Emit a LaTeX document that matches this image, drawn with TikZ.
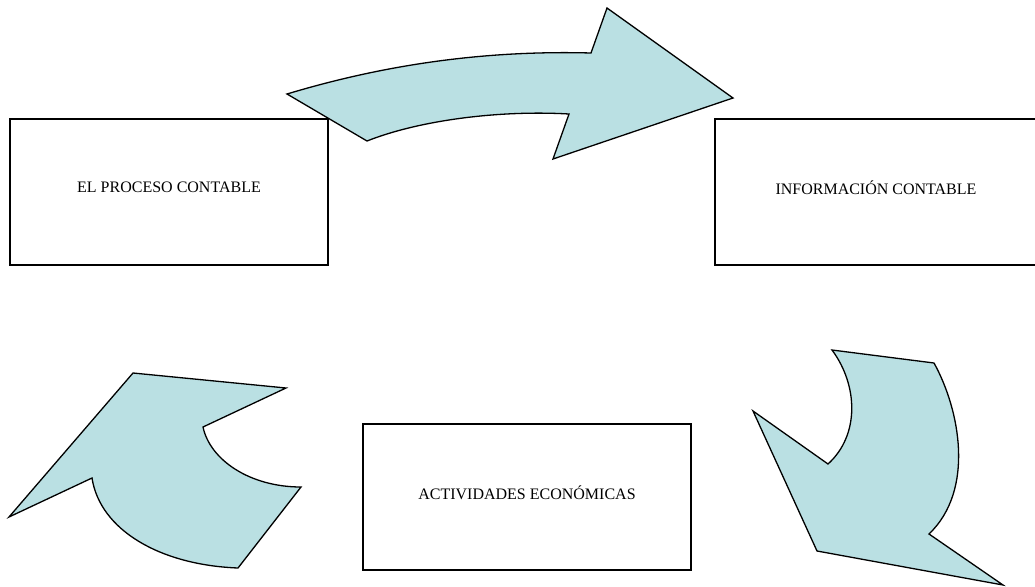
\documentclass[tikz,border=0pt]{standalone}
\usepackage{fontspec}
\setmainfont{Liberation Serif}
\definecolor{arrowfill}{RGB}{186,224,227}
\begin{document}
\begin{tikzpicture}[x=1pt,y=-1pt,
  stagebox/.style={draw, line width=1.6pt, inner sep=0pt, text depth=9pt,
    font=\fontsize{16}{19}\selectfont},
  bentarrow/.style={draw, line width=1.3pt, fill=arrowfill, line join=miter}]
\useasboundingbox (0,0) rectangle (1035,586);

% the three stages of the cycle
\node[stagebox, minimum width=318pt, minimum height=146pt] (proceso) at (169,192) {EL PROCESO CONTABLE};
\node[stagebox, minimum width=322pt, minimum height=146pt] (informacion) at (876,192) {INFORMACIÓN CONTABLE};
\node[stagebox, minimum width=328pt, minimum height=146pt] (actividades) at (527,497) {ACTIVIDADES ECONÓMICAS};

% curved block arrow from the process to the information
\draw[bentarrow] (287,94) .. controls (380,66) and (480,50) .. (591,53)
  -- (607,8) -- (733,98) -- (553,159) -- (569,114)
  .. controls (500,110) and (420,120) .. (367,141) -- cycle;

% curved block arrow from the information down to the activities
\draw[bentarrow] (832,350) -- (934,363)
  .. controls (960,410) and (975,490) .. (929,534)
  -- (1003,585) -- (817,551) -- (753,411) -- (828,464)
  .. controls (860,435) and (858,385) .. (832,350) -- cycle;

% curved block arrow from the activities up to the process
\draw[bentarrow] (133,373) -- (286,388) -- (203,427)
  .. controls (210,460) and (250,487) .. (301,487)
  -- (238,568)
  .. controls (160,565) and (100,530) .. (92,478)
  -- (9,517) -- cycle;
\end{tikzpicture}
\end{document}
